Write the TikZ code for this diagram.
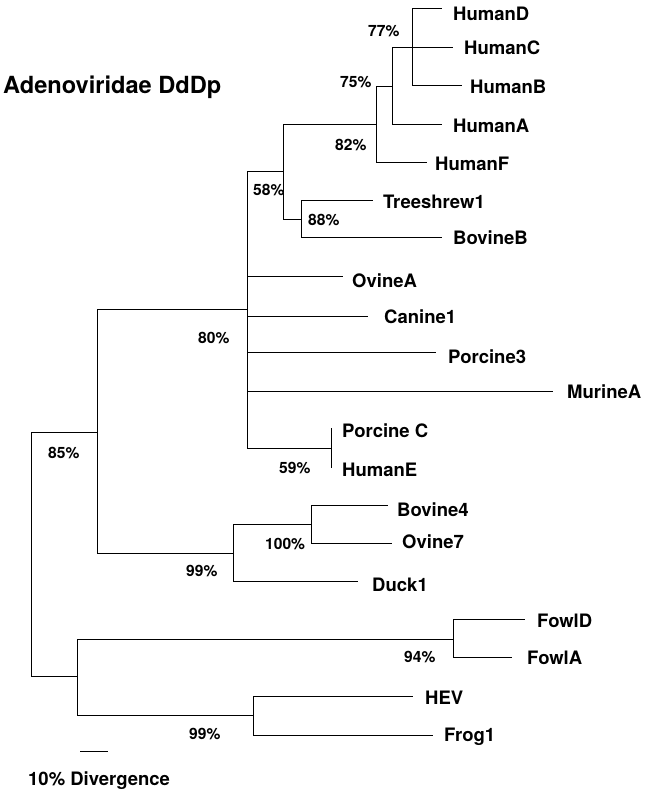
\documentclass[tikz,border=0pt]{standalone}
\usepackage{fontspec}
\setmainfont{TeX Gyre Heros}
\begin{document}
\begin{tikzpicture}[x=1pt,y=-1pt,
  br/.style={line width=1pt},
  taxon/.style={anchor=base west,inner sep=0pt,font=\fontsize{18.5}{20}\selectfont\bfseries},
  boot/.style={anchor=base west,inner sep=0pt,font=\fontsize{15.6}{17}\selectfont\bfseries},
  ttl/.style={anchor=base west,inner sep=0pt,font=\fontsize{23.6}{26}\selectfont\bfseries}]
\useasboundingbox (0,0) rectangle (646,792);
% internal nodes
\coordinate (n77) at (412,48);
\coordinate (n75) at (392,86);
\coordinate (n82) at (376,124);
\coordinate (n58) at (283,171);
\coordinate (n88) at (301,219);
\coordinate (n80) at (247,309);
\coordinate (n59) at (331,448);
\coordinate (n85) at (97,432);
\coordinate (n99a) at (233,553);
\coordinate (n100) at (311,524);
\coordinate (root) at (31,554);
\coordinate (nlow) at (77,676);
\coordinate (n94) at (453,639);
\coordinate (n99b) at (253,715);
% tips
\coordinate (tHumanD) at (442,9);
\coordinate (tHumanC) at (453,48);
\coordinate (tHumanB) at (462,85);
\coordinate (tHumanA) at (442,124);
\coordinate (tHumanF) at (427,162);
\coordinate (tTree) at (373,200);
\coordinate (tBovineB) at (442,237);
\coordinate (tOvineA) at (343,276);
\coordinate (tCanine) at (368,316);
\coordinate (tPorcine3) at (436,352);
\coordinate (tMurine) at (553,391);
\coordinate (tPorcineC) at (331,428);
\coordinate (tHumanE) at (331,468);
\coordinate (tBovine4) at (388,505);
\coordinate (tOvine7) at (392,543);
\coordinate (tDuck) at (358,581);
\coordinate (tFowlD) at (525,619);
\coordinate (tFowlA) at (512,657);
\coordinate (tHEV) at (413,696);
\coordinate (tFrog) at (433,735);
% branches
\draw[br] (n77) |- (tHumanD);
\draw[br] (n77) |- (tHumanB);
\draw[br] (n75) |- (tHumanC);
\draw[br] (n75) |- (tHumanA);
\draw[br] (n82) |- (n75);
\draw[br] (n82) |- (tHumanF);
\draw[br] (n58) |- (n82);
\draw[br] (n58) |- (n88);
\draw[br] (n88) |- (tTree);
\draw[br] (n88) |- (tBovineB);
\draw[br] (n80) |- (n58);
\draw[br] (n80) |- (tOvineA);
\draw[br] (n80) |- (tCanine);
\draw[br] (n80) |- (tPorcine3);
\draw[br] (n80) |- (tMurine);
\draw[br] (n80) |- (n59);
\draw[br] (n59) -- (tPorcineC);
\draw[br] (n59) -- (tHumanE);
\draw[br] (n85) |- (n80);
\draw[br] (n85) |- (n99a);
\draw[br] (n99a) |- (n100);
\draw[br] (n99a) |- (tDuck);
\draw[br] (n100) |- (tBovine4);
\draw[br] (n100) |- (tOvine7);
\draw[br] (root) |- (n85);
\draw[br] (root) |- (nlow);
\draw[br] (nlow) |- (n94);
\draw[br] (nlow) |- (n99b);
\draw[br] (n94) |- (tFowlD);
\draw[br] (n94) |- (tFowlA);
\draw[br] (n99b) |- (tHEV);
\draw[br] (n99b) |- (tFrog);
% taxon labels
\node[taxon] (lHumanD) at (453,20.7) {HumanD};
\node[taxon] (lHumanC) at (464,55) {HumanC};
\node[taxon] (lHumanB) at (470,93) {HumanB};
\node[taxon] (lHumanA) at (453,132) {HumanA};
\node[taxon] (lHumanF) at (435,170) {HumanF};
\node[taxon] (lTree) at (383,208) {Treeshrew1};
\node[taxon] (lBovineB) at (453,244) {BovineB};
\node[taxon] (lOvineA) at (352,287) {OvineA};
\node[taxon] (lCanine) at (384,323) {Canine1};
\node[taxon] (lPorcine3) at (448,363) {Porcine3};
\node[taxon] (lMurine) at (567,398) {MurineA};
\node[taxon] (lPorcineC) at (342,437) {Porcine C};
\node[taxon] (lHumanE) at (342,476) {HumanE};
\node[taxon] (lBovine4) at (397,516) {Bovine4};
\node[taxon] (lOvine7) at (402,548) {Ovine7};
\node[taxon] (lDuck) at (372,591) {Duck1};
\node[taxon] (lFowlD) at (537,627) {FowlD};
\node[taxon] (lFowlA) at (527,664) {FowlA};
\node[taxon] (lHEV) at (425,704) {HEV};
\node[taxon] (lFrog) at (444,741) {Frog1};
% bootstrap values
\node[boot] (b77) at (368,37) {77\%};
\node[boot] (b75) at (340,87) {75\%};
\node[boot] (b82) at (335,150) {82\%};
\node[boot] (b58) at (253,195) {58\%};
\node[boot] (b88) at (308,225) {88\%};
\node[boot] (b80) at (198,343) {80\%};
\node[boot] (b85) at (48,458) {85\%};
\node[boot] (b59) at (279,473) {59\%};
\node[boot] (b100) at (265,549) {100\%};
\node[boot] (b99a) at (186,576) {99\%};
\node[boot] (b94) at (404,662) {94\%};
\node[boot] (b99b) at (189,739) {99\%};
% title and scale
\node[ttl] (title) at (3,93) {Adenoviridae DdDp};
\coordinate (sb1) at (80,751);
\coordinate (sb2) at (108,751);
\draw[br] (sb1) -- (sb2);
\node[taxon] (scale) at (28,785) {10\% Divergence};
\end{tikzpicture}
\end{document}
